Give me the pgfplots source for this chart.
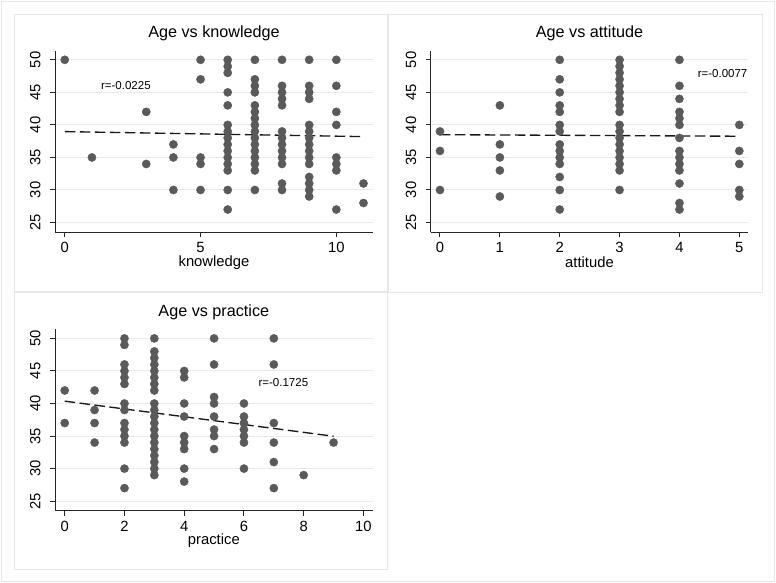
\documentclass[border=0pt]{standalone}
\usepackage{fontspec}
\setmainfont{Liberation Sans}
\usepackage{pgfplots}
\pgfplotsset{compat=1.18}

\definecolor{dotgray}{HTML}{5A5A5A}
\definecolor{gridgray}{HTML}{EAEAEA}
\definecolor{framegray}{HTML}{E6E6E6}

\tikzset{rlabel/.style={font=\fontsize{11.5}{13}\selectfont, anchor=center}}

\pgfplotsset{
  statapanel/.style={
    scale only axis, width=318pt, height=181.6pt,
    ymin=23.5, ymax=51.4, ytick={25,30,...,50},
    axis x line*=bottom, axis y line*=left,
    axis line style={black!85, line width=1pt},
    tick align=outside, major tick length=5pt,
    tick style={black!85, line width=1pt},
    ymajorgrids, grid style={gridgray, line width=1pt},
    /pgf/number format/assume math mode=true,
    ticklabel style={font=\fontsize{14.8}{17}\selectfont},
    yticklabel style={rotate=90, anchor=south},
    yticklabel shift=6pt, xticklabel shift=1.5pt,
    title style={font=\fontsize{16.2}{19}\selectfont, at={(0.5,1)}, anchor=center, yshift=11pt},
    xlabel style={font=\fontsize{14.8}{17}\selectfont, at={(0.5,0)}, anchor=center, yshift=-30pt},
    clip=false,
  },
  dots/.style={only marks, mark=*, mark size=4.1pt, dotgray,
    mark options={draw=dotgray, fill=dotgray}},
  fit/.style={no marks, black!90, line width=1.35pt, dash pattern=on 10.5pt off 4.5pt},
}

\begin{document}
\begin{tikzpicture}
% background and panel frames
\fill[white] (0pt,0pt) rectangle (776pt,-583pt);
\draw[framegray, line width=0.8pt] (1.5pt,-1.5pt) rectangle (774.5pt,-581.5pt);
\draw[framegray, line width=0.8pt] (14pt,-14pt) rectangle (387pt,-291.5pt);
\draw[framegray, line width=0.8pt] (388pt,-14pt) rectangle (762.5pt,-292pt);
\draw[framegray, line width=0.8pt] (14pt,-292.5pt) rectangle (387pt,-569.5pt);

% Age vs knowledge
\begin{axis}[statapanel, at={(55pt,-50.7pt)}, anchor=north west,
  xmin=-0.36, xmax=11.35, xtick={0,5,10},
  title={Age vs knowledge}, xlabel={knowledge}]
\addplot[dots] table {
x y
0 50
1 35
3 42
3 34
4 37
4 35
4 30
5 50
5 47
5 35
5 34
5 30
6 50
6 49
6 48
6 45
6 43
6 40
6 39
6 38
6 37
6 36
6 35
6 34
6 33
6 30
6 27
7 50
7 47
7 46
7 45
7 43
7 42
7 41
7 40
7 39
7 38
7 37
7 36
7 35
7 34
7 33
7 30
8 50
8 46
8 45
8 44
8 43
8 39
8 38
8 37
8 36
8 35
8 34
8 31
8 30
9 50
9 46
9 45
9 44
9 40
9 39
9 38
9 37
9 36
9 35
9 34
9 32
9 31
9 30
9 29
10 50
10 46
10 42
10 40
10 35
10 34
10 33
10 27
11 31
11 28
};
\addplot[fit] coordinates {(0,38.97) (11,38.2)};
\node[rlabel] at (axis cs:2.25,46) {r=-0.0225};
\end{axis}

% Age vs attitude
\begin{axis}[statapanel, at={(430.7pt,-50.7pt)}, anchor=north west,
  width=317.6pt,
  xmin=-0.155, xmax=5.15, xtick={0,1,2,3,4,5},
  title={Age vs attitude}, xlabel={attitude}]
\addplot[dots] table {
x y
0 39
0 36
0 30
1 43
1 37
1 35
1 33
1 29
2 50
2 47
2 45
2 43
2 42
2 40
2 39
2 37
2 36
2 35
2 34
2 32
2 30
2 27
3 50
3 49
3 48
3 47
3 46
3 45
3 44
3 43
3 42
3 40
3 39
3 38
3 37
3 36
3 35
3 34
3 33
3 30
4 50
4 46
4 44
4 42
4 41
4 40
4 38
4 36
4 35
4 34
4 33
4 31
4 28
4 27
5 40
5 36
5 34
5 30
5 29
};
\addplot[fit] coordinates {(0,38.5) (5,38.26)};
\node[rlabel] at (axis cs:4.72,47.95) {r=-0.0077};
\end{axis}

% Age vs practice
\begin{axis}[statapanel, at={(55pt,-329.3pt)}, anchor=north west,
  width=317.7pt,
  xmin=-0.325, xmax=10.31, xtick={0,2,...,10},
  title={Age vs practice}, xlabel={practice}]
\addplot[dots] table {
x y
0 42
0 37
1 42
1 39
1 37
1 34
2 50
2 49
2 46
2 45
2 44
2 43
2 40
2 39
2 37
2 36
2 35
2 34
2 30
2 27
3 50
3 48
3 47
3 46
3 45
3 44
3 43
3 42
3 40
3 39
3 38
3 37
3 36
3 35
3 34
3 33
3 32
3 31
3 30
3 29
4 45
4 44
4 40
4 38
4 35
4 34
4 33
4 30
4 28
5 50
5 46
5 41
5 40
5 38
5 36
5 35
5 33
6 40
6 38
6 37
6 36
6 35
6 34
6 30
7 50
7 46
7 37
7 34
7 31
7 27
8 29
9 34
};
\addplot[fit] coordinates {(0,40.36) (9,34.97)};
\node[rlabel] at (axis cs:7.32,43.17) {r=-0.1725};
\end{axis}
\end{tikzpicture}
\end{document}
